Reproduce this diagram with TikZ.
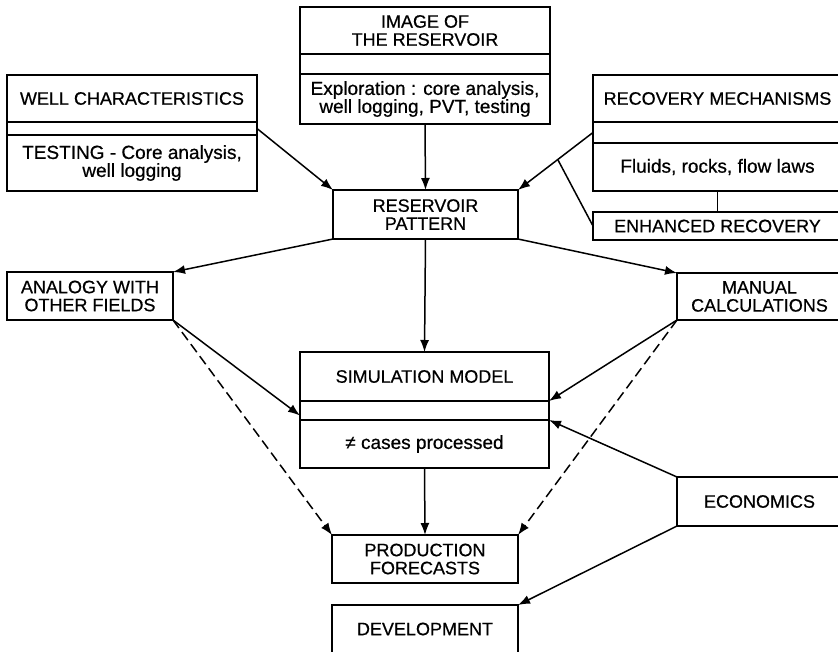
\documentclass[tikz,border=0pt]{standalone}
\usepackage{fontspec}
\setmainfont{Liberation Sans}[FakeBold=0.6]
\usetikzlibrary{arrows.meta,positioning,calc}

\begin{document}
\begin{tikzpicture}[x=1pt,y=-1pt,
  font=\fontsize{18}{18}\selectfont,
  part/.style={draw,line width=1.9pt,inner sep=0pt,outer sep=0pt,align=center},
  lower/.style={part,font=\fontsize{19}{18}\selectfont},
  arr/.style={-{Latex[length=12pt,width=9pt]},line width=1.5pt},
  dsh/.style={arr,dash pattern=on 10pt off 5pt},
  link/.style={line width=1.5pt}
]
\useasboundingbox (0,0) rectangle (838,651);
% three-part boxes on top
\node[part,minimum width=250,minimum height=47] (imgtitle) at (425,30.5) {IMAGE OF\\THE RESERVOIR};
\node[part,minimum width=250,minimum height=20,below=0pt of imgtitle] (imgstrip) {};
\node[lower,minimum width=250,minimum height=50,below=0pt of imgstrip] (imgbody) {Exploration : core analysis,\\well logging, PVT, testing};
\node[part,minimum width=250,minimum height=47] (welltitle) at (132,98.5) {WELL CHARACTERISTICS};
\node[part,minimum width=250,minimum height=13,below=0pt of welltitle] (wellstrip) {};
\node[lower,minimum width=250,minimum height=56,below=0pt of wellstrip] (wellbody) {TESTING - Core analysis,\\well logging};
\node[part,minimum width=249,minimum height=47] (rectitle) at (717.5,98.5) {RECOVERY MECHANISMS};
\node[part,minimum width=249,minimum height=21,below=0pt of rectitle] (recstrip) {};
\node[lower,minimum width=249,minimum height=48,below=0pt of recstrip] (recbody) {Fluids, rocks, flow laws};
\node[part,minimum width=249,minimum height=28] (enh) at (717.5,226) {ENHANCED RECOVERY};
% middle row
\node[part,minimum width=185,minimum height=49] (respat) at (425.5,214.5) {RESERVOIR\\PATTERN};
\node[part,minimum width=166,minimum height=48] (analogy) at (90,296) {ANALOGY WITH\\OTHER FIELDS};
\node[part,minimum width=165,minimum height=47] (manual) at (759.5,296.5) {MANUAL\\CALCULATIONS};
\node[part,minimum width=249,minimum height=49] (simtitle) at (424.5,376.5) {SIMULATION MODEL};
\node[part,minimum width=249,minimum height=19,below=0pt of simtitle] (simstrip) {};
\node[lower,minimum width=249,minimum height=48,below=0pt of simstrip] (simbody) {≠ cases processed};
\node[part,minimum width=165,minimum height=49] (econ) at (759.5,501.5) {ECONOMICS};
% bottom
\node[part,minimum width=186,minimum height=48] (prod) at (425,559) {PRODUCTION\\FORECASTS};
\node[part,minimum width=186,minimum height=48] (devel) at (425,629) {DEVELOPMENT};
% connectors
\draw[arr] (imgbody.south) -- (respat.north);
\draw[arr] (wellstrip.east) -- (respat.north west);
\draw[arr] (recstrip.west) -- (respat.north east);
\draw[link] (recbody.south) -- (enh.north);
\draw[link] (enh.west) -- ($(recstrip.west)!0.47!(respat.north east)$);
\draw[arr] (respat.south west) -- (analogy.north east);
\draw[arr] (respat.south east) -- (manual.north west);
\draw[arr] (respat.south) -- (simtitle.north);
\draw[arr] (analogy.south east) -- ([yshift=-5pt]simstrip.west);
\draw[dsh] (analogy.south east) -- (prod.north west);
\draw[arr] (manual.south west) -- (simtitle.south east);
\draw[dsh] (manual.south west) -- (prod.north east);
\draw[arr] (econ.north west) -- (simstrip.south east);
\draw[arr] (econ.south west) -- (devel.north east);
\draw[arr] (simbody.south) -- (prod.north);
\end{tikzpicture}
\end{document}
